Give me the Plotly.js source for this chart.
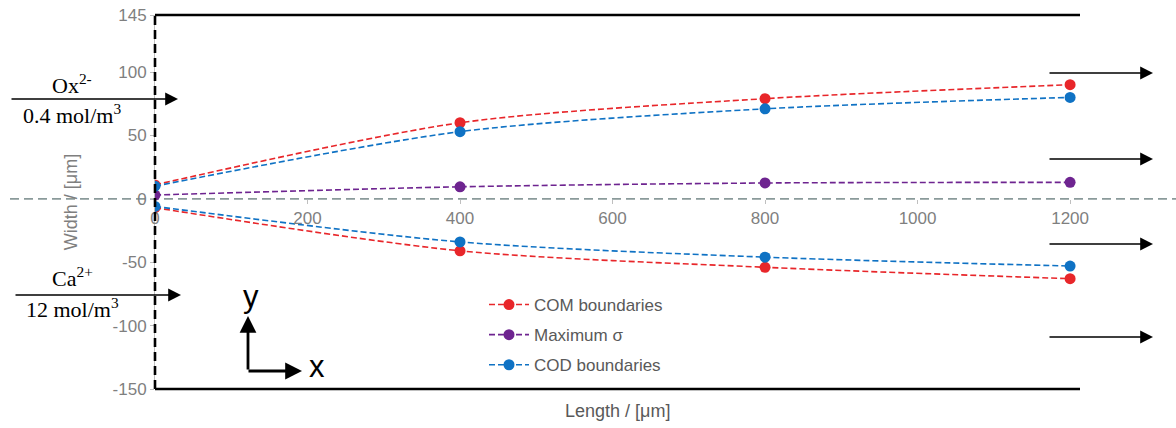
<!DOCTYPE html>
<html>
<head>
<meta charset="utf-8">
<script src="https://cdn.plot.ly/plotly-3.0.1.min.js"></script>
<style>html,body{margin:0;padding:0;background:#fff;}#chart{width:1176px;height:428px;}</style>
</head>
<body>
<div id="chart"></div>
<script>
// ---- data ----
const lengths = [0, 400, 800, 1200];
const comUpper = [11, 60, 79, 90];
const comLower = [-7, -41, -54, -63];
const maxSigma = [3, 9.5, 12.5, 13];
const codUpper = [10, 53, 71, 80];
const codLower = [-6, -34, -46, -53];
const seriesNames = ['COM boundaries', 'Maximum σ', 'COD boundaries'];
const xTicks = [0, 200, 400, 600, 800, 1000, 1200];
const yTicks = [-150, -100, -50, 0, 50, 100, 145];
const yTickText = ['-150', '-100', '-50', '0', '50', '100', '145'];
const yRange = [-150, 145];
const xRange = [0, 1213];

const RED = '#e8262a', PURPLE = '#6e2490', BLUE = '#0f72c4';
const dash = '6px,3px';
function tr(y, name, color, show, group) {
  return {
    x: lengths, y: y, name: name, type: 'scatter', mode: 'lines+markers',
    line: {color: color, width: 1.6, dash: dash, shape: 'spline', smoothing: 0.8},
    marker: {color: color, size: 11},
    showlegend: show, legendgroup: group
  };
}
const data = [
  tr(comUpper, seriesNames[0], RED, true, 'com'),
  tr(maxSigma, seriesNames[1], PURPLE, true, 'sig'),
  tr(codUpper, seriesNames[2], BLUE, true, 'cod'),
  tr(comLower, seriesNames[0], RED, false, 'com'),
  tr(codLower, seriesNames[2], BLUE, false, 'cod')
];

// pixel helpers for decorations (plot area: l=155, t=15, w=925, h=374)
const L = 155, T = 15, W = 925, H = 374;
const px = v => (v - L) / W;
const py = v => (T + H - v) / H;

function arrow(x0, y0, x1, y1, w, s) {
  return {xref: 'paper', yref: 'paper', axref: 'paper', ayref: 'paper',
    x: px(x1), y: py(y1), ax: px(x0), ay: py(y0), text: '', showarrow: true,
    arrowhead: 2, arrowsize: s || 1.6, arrowwidth: w || 1.6, arrowcolor: '#000'};
}
function label(x, y, text, size, family) {
  return {xref: 'paper', yref: 'paper', x: px(x), y: py(y), text: text, showarrow: false,
    xanchor: 'center', yanchor: 'middle',
    font: {family: family || 'Liberation Serif, Times New Roman, serif', size: size || 22, color: '#000'}};
}

const annotations = [
  arrow(10, 99, 178, 99), arrow(14, 295, 181, 295),
  arrow(1048, 73, 1153, 73), arrow(1048, 159, 1153, 159),
  arrow(1048, 244, 1153, 244), arrow(1048, 337, 1153, 337),
  arrow(248, 371, 248, 316, 2.8, 1.2), arrow(247, 371, 302, 371, 2.8, 1.2),
  label(72, 84, 'Ox<sup>2-</sup>'), label(72, 114, '0.4 mol/m<sup>3</sup>'),
  label(72, 277, 'Ca<sup>2+</sup>'), label(72, 308, '12 mol/m<sup>3</sup>'),
  label(251, 296, 'y', 31, 'Liberation Sans, Arial, sans-serif'),
  label(317, 366, 'x', 31, 'Liberation Sans, Arial, sans-serif'),
  {xref: 'paper', yref: 'paper', x: 0.5, y: py(411), text: 'Length / [μm]', showarrow: false,
   xanchor: 'center', yanchor: 'middle', font: {family: 'Liberation Sans, Arial, sans-serif', size: 18, color: '#595959'}}
];

const shapes = [
  {type: 'line', xref: 'paper', yref: 'y', x0: px(10), x1: px(1176), y0: 0, y1: 0,
   line: {color: '#8a9a9a', width: 1.8, dash: '9px,5px'}, layer: 'below'},
  {type: 'line', xref: 'paper', yref: 'paper', x0: 0, x1: 1, y0: 1, y1: 1, line: {color: '#000', width: 2.6}},
  {type: 'line', xref: 'paper', yref: 'paper', x0: 0, x1: 1, y0: 0, y1: 0, line: {color: '#000', width: 2.6}},
  {type: 'line', xref: 'paper', yref: 'paper', x0: 0, x1: 0, y0: 0, y1: 1, line: {color: '#000', width: 2.6, dash: '9px,5px'}}
];

const layout = {
  width: 1176, height: 428,
  margin: {l: L, r: 1176 - L - W, t: T, b: 428 - T - H},
  paper_bgcolor: '#fff', plot_bgcolor: 'rgba(0,0,0,0)',
  font: {family: 'Liberation Sans, Arial, sans-serif', color: '#7f7f7f', size: 14},
  showlegend: true,
  legend: {x: px(484), y: py(287), xanchor: 'left', yanchor: 'top', bgcolor: 'rgba(0,0,0,0)',
    font: {size: 17, color: '#595959'}, tracegroupgap: 5, itemwidth: 40},
  xaxis: {range: xRange, tickvals: xTicks, anchor: 'free', position: (0 - yRange[0]) / (yRange[1] - yRange[0]),
    showline: false, showgrid: false, zeroline: false, ticks: 'outside', ticklen: 4, tickcolor: '#bfbfbf',
    tickfont: {size: 17, color: '#7f7f7f'}, fixedrange: true},
  yaxis: {range: yRange, tickvals: yTicks, ticktext: yTickText, showline: true, linecolor: '#bfbfbf',
    showgrid: false, zeroline: false, ticks: 'outside', ticklen: 4, tickcolor: '#bfbfbf',
    tickfont: {size: 17, color: '#7f7f7f'},
    title: {text: 'Width / [μm]', standoff: 30, font: {size: 18, color: '#7f7f7f'}}, automargin: false},
  shapes: shapes,
  annotations: annotations
};

Plotly.newPlot('chart', data, layout, {displayModeBar: false, staticPlot: true});
</script>
</body>
</html>
